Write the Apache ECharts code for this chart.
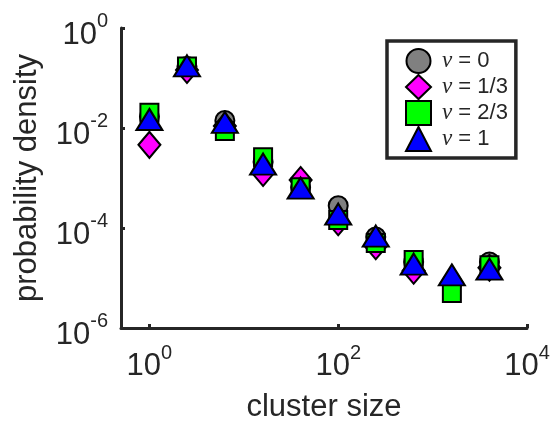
<!DOCTYPE html>
<html><head><meta charset="utf-8">
<script src="https://cdn.jsdelivr.net/npm/echarts@6/dist/echarts.min.js"></script>
<style>html,body{margin:0;padding:0;background:#fff}#c{width:556px;height:428px}</style>
</head><body><div id="c"></div>
<script>
// cluster size bins (x)
const clusterSizes = [1, 2.5, 6.3, 16, 40, 100, 250, 630, 1600, 4000];
// probability density per nu
const densNu0   = [0.017, 0.17, 0.0141, 0.0021, 0.00065, 0.00028, 0.000066, 0.000021, 0.000008, 0.000021];
const densNu13  = [0.0046, 0.145, 0.011, 0.00126, 0.00091, 0.00013, 0.000043, 0.000014, 0.000008, 0.000016];
const densNu23  = [0.0203, 0.17, 0.0087, 0.0026, 0.00065, 0.000145, 0.00005, 0.000023, 0.000005, 0.000018];
const densNu1   = [0.0148, 0.175, 0.0129, 0.0019, 0.00063, 0.00019, 0.000069, 0.000019, 0.0000115, 0.000015];
const seriesNames = ['ν = 0', 'ν = 1/3', 'ν = 2/3', 'ν = 1'];
const xTickValues = [1, 100, 10000];
const yTickValues = [1e-6, 1e-4, 1e-2, 1];

const TXT = '#262626';
const FONT = '"Liberation Sans", Arial, Helvetica, sans-serif';

function pow10Label(v) {
  const e = Math.round(Math.log10(v));
  return '{b|10}{s|' + e + '}';
}
const richLbl = {
  b: { fontSize: 31, fontFamily: FONT, color: TXT, lineHeight: 39, verticalAlign: 'bottom' },
  s: { fontSize: 20, fontFamily: FONT, color: TXT, lineHeight: 20, verticalAlign: 'top' }
};

function pts(vals) { return clusterSizes.map((x, i) => [x, vals[i]]); }

const styles = [
  { symbol: 'circle', size: 19, color: '#808080' },
  { symbol: 'diamond', size: [22, 26], color: '#ff00ff' },
  { symbol: 'rect', size: 18, color: '#00ff00' },
  { symbol: 'triangle', size: [26, 21], color: '#0000ff' }
];
const allVals = [densNu0, densNu13, densNu23, densNu1];

const chart = echarts.init(document.getElementById('c'), null, { renderer: 'canvas' });
chart.setOption({
  animation: false,
  backgroundColor: '#fff',
  grid: { left: 121, top: 28, right: 29, bottom: 100, containLabel: false },
  legend: {
    orient: 'vertical',
    left: 387, top: 41,
    padding: [7, 8, 6, 18],
    itemWidth: 25, itemHeight: 24, itemGap: 0,
    borderColor: TXT, borderWidth: 3.5, backgroundColor: '#fff',
    data: seriesNames,
    formatter: n => '{nu|ν}' + n.slice(1),
    textStyle: {
      fontSize: 22, fontFamily: FONT, color: TXT, lineHeight: 24, padding: [0, 0, 0, 6],
      rich: { nu: { fontSize: 23, lineHeight: 24, fontStyle: 'italic', fontFamily: '"Liberation Serif", "DejaVu Serif", serif', color: TXT } }
    }
  },
  xAxis: {
    type: 'log', logBase: 10, min: 0.5, max: 10000,
    name: 'cluster size', nameLocation: 'middle', nameGap: 64,
    nameTextStyle: { fontSize: 31, fontFamily: FONT, color: TXT },
    axisLine: { show: true, onZero: false, lineStyle: { color: TXT, width: 3 } },
    axisTick: { show: true, inside: true, length: 4, customValues: xTickValues, lineStyle: { color: TXT, width: 3 } },
    minorTick: { show: false },
    axisLabel: { customValues: xTickValues, formatter: pow10Label, rich: richLbl, margin: 15 },
    splitLine: { show: false }
  },
  yAxis: {
    type: 'log', logBase: 10, min: 1e-6, max: 1,
    name: 'probability density', nameLocation: 'middle', nameGap: 78,
    nameTextStyle: { fontSize: 31, fontFamily: FONT, color: TXT },
    axisLine: { show: true, onZero: false, lineStyle: { color: TXT, width: 3 } },
    axisTick: { show: true, inside: true, length: 4, customValues: yTickValues, lineStyle: { color: TXT, width: 3 } },
    minorTick: { show: false },
    axisLabel: { customValues: yTickValues, formatter: pow10Label, rich: richLbl, margin: 13, padding: [6, 0, 0, 0] },
    splitLine: { show: false }
  },
  series: allVals.map((vals, k) => ({
    name: seriesNames[k],
    type: 'scatter',
    symbol: styles[k].symbol,
    symbolSize: styles[k].size,
    itemStyle: { color: styles[k].color, borderColor: '#000', borderWidth: 2, opacity: 1 },
    emphasis: { disabled: true },
    data: pts(vals)
  }))
});
</script>
</body></html>
